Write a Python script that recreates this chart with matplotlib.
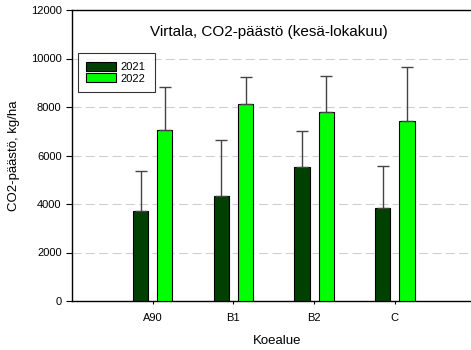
import matplotlib
matplotlib.use("Agg")
import matplotlib.pyplot as plt
import numpy as np

plt.rcParams["font.family"] = ["Liberation Sans", "DejaVu Sans"]

# ── Data ────────────────────────────────────────────────────────────────────
sites = ["A90", "B1", "B2", "C"]
co2_2021 = [3700, 4330, 5510, 3820]
err_2021 = [1650, 2300, 1480, 1730]
co2_2022 = [7040, 8140, 7810, 7410]
err_2022 = [1780, 1100, 1480, 2230]
yticks = [0, 2000, 4000, 6000, 8000, 10000, 12000]

C_2021 = "#004000"
C_2022 = "#00ff00"

fig = plt.figure(figsize=(4.71, 3.5), dpi=100)
ax = fig.add_axes([72 / 471, 49 / 350, 410 / 471, 291 / 350])

x = np.arange(1, len(sites) + 1)
w = 0.19
off = 0.15
err_kw = dict(ecolor="#444444", elinewidth=1.0, capsize=4, capthick=1.0)

ax.bar(x - off, co2_2021, w, color=C_2021, edgecolor="black", linewidth=0.8,
       yerr=[np.zeros(len(sites)), err_2021], error_kw=err_kw, label="2021",
       zorder=3)
ax.bar(x + off, co2_2022, w, color=C_2022, edgecolor="black", linewidth=0.8,
       yerr=[np.zeros(len(sites)), err_2022], error_kw=err_kw, label="2022",
       zorder=3)

ax.set_xlim(0, 5.08)
ax.set_ylim(0, 12000)
ax.set_yticks(yticks)
ax.set_yticklabels([str(t) for t in yticks], fontsize=8)
ax.set_xticks(x)
ax.set_xticklabels(sites, fontsize=8)
ax.tick_params(axis="both", direction="out", length=4, width=0.8)
ax.tick_params(axis="x", length=2.5, pad=6)

for yv in yticks[1:-1]:
    ax.axhline(yv, color="#cfcfcf", lw=0.8, ls=(0, (8, 4)), zorder=0)

ax.spines["right"].set_visible(False)
for sp in ["left", "bottom", "top"]:
    ax.spines[sp].set_linewidth(1.0)

ax.set_xlabel("Koealue", fontsize=9.5, labelpad=9)
ax.set_ylabel("CO2-päästö, kg/ha", fontsize=9.5, labelpad=8)
ax.text(0.48, 0.925, "Virtala, CO2-päästö (kesä-lokakuu)", transform=ax.transAxes,
        ha="center", va="center", fontsize=11)

leg = ax.legend(loc="upper left", bbox_to_anchor=(0.0, 0.87), fontsize=8,
                frameon=True, fancybox=False, edgecolor="black",
                handlelength=2.7, handleheight=0.8, labelspacing=0.1,
                borderpad=0.8, handletextpad=0.4)
leg.get_frame().set_linewidth(0.8)

fig.savefig("out.png", dpi=100)
